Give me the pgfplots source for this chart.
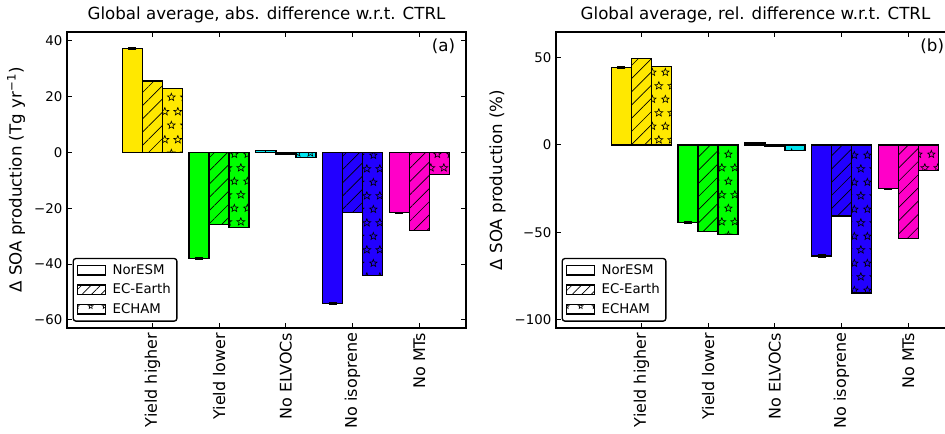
\documentclass[border=0pt]{standalone}
\usepackage{fontspec}
\setmainfont{DejaVu Sans}
\usepackage{pgfplots}
\pgfplotsset{compat=1.18}
\usetikzlibrary{patterns,patterns.meta}

\definecolor{cyellow}{HTML}{FFE800}
\definecolor{cgreen}{HTML}{00FF00}
\definecolor{ccyan}{HTML}{00E5F0}
\definecolor{cblue}{HTML}{2200FF}
\definecolor{cmag}{HTML}{FF00C8}

\newcommand{\starpath}[3]{\draw[line width=0.45pt, shift={(#1,#2)}] (90:#3) -- (126:0.42*#3) -- (162:#3) -- (198:0.42*#3) -- (234:#3) -- (270:0.42*#3) -- (306:#3) -- (342:0.42*#3) -- (18:#3) -- (54:0.42*#3) -- cycle;}

\tikzdeclarepattern{
  name=mystars,
  type=uncolored,
  bottom left={(0pt,0pt)},
  top right={(9.5pt,20.5pt)},
  tile size={(9.5pt,20.5pt)},
  code={
    \starpath{4.75pt}{5.125pt}{3pt}
    \starpath{0pt}{15.375pt}{3pt}
    \starpath{9.5pt}{15.375pt}{3pt}
  }
}
\tikzdeclarepattern{
  name=mystarsL,
  type=uncolored,
  bottom left={(0pt,0pt)},
  top right={(10.5pt,7pt)},
  tile size={(10.5pt,7pt)},
  code={
    \starpath{5.25pt}{5.2pt}{2pt}
  }
}

\pgfplotsset{
  myaxis/.style={
    scale only axis, width=299.25pt, height=222pt,
    xmin=-1.28, xmax=4.7,
    xtick={0,1,2,3,4},
    xticklabels={Yield higher, Yield lower, No ELVOCs, No isoprene, No MTs},
    xticklabel style={rotate=90, anchor=east, font=\fontsize{12}{14}\selectfont},
    yticklabel style={font=\fontsize{10}{12}\selectfont},
    tick align=inside, major tick length=4pt,
    tick style={black, line width=0.8pt},
    axis line style={line width=1.3pt},
    title style={font=\fontsize{12.5}{15}\selectfont, yshift=-3pt},
    ylabel style={font=\fontsize{12.5}{15}\selectfont},
    legend cell align=left,
    legend style={at={(0.014,0.021)}, anchor=south west, draw=black, line width=1pt,
      rounded corners=2pt, font=\fontsize{10}{12}\selectfont, row sep=1.5pt, column sep=3pt, inner sep=2.5pt},
    legend image code/.code={\draw[sharp corners, ##1] (0pt,-3.5pt) rectangle (21pt,3.5pt);},
  },
  noresm/.style={ybar, bar width=0.3, bar shift=0, draw=black, line width=1pt, forget plot,
    error bars/y dir=both, error bars/y explicit,
    error bars/error bar style={line width=0.8pt, black},
    error bars/error mark options={black, rotate=90, mark size=3pt, line width=0.8pt}},
  ecearth/.style={ybar, bar width=0.3, bar shift=0, draw=black, line width=1pt, forget plot,
    postaction={pattern={Lines[angle=45,distance=7pt,line width=0.5pt]}}},
  echam/.style={ybar, bar width=0.3, bar shift=0.3, draw=black, line width=1pt, forget plot,
    postaction={pattern=mystars}},
}

\begin{document}
\begin{tikzpicture}
\path[use as bounding box] (0,0) rectangle (708.75pt,324.75pt);

% ---------------- panel (a) ----------------
\begin{axis}[myaxis, at={(50.25pt,78.75pt)}, anchor=south west,
  ymin=-62.9, ymax=43.2,
  ytick={-60,-40,-20,0,20,40},
  yticklabels={−60,−40,−20,0,20,40},
  title={Global average, abs. difference w.r.t. CTRL},
  ylabel={Δ SOA production (Tg yr\textsuperscript{−1})}]
% NorESM (placed at category - 0.3)
\addplot[noresm, fill=cyellow] coordinates {(-0.3,37.4) +- (0,0.4)};
\addplot[noresm, fill=cgreen]  coordinates {(0.7,-38.1) +- (0,0.4)};
\addplot[noresm, fill=ccyan]   coordinates {(1.7,0.7) +- (0,0.1)};
\addplot[noresm, fill=cblue]   coordinates {(2.7,-54.2) +- (0,0.4)};
\addplot[noresm, fill=cmag]    coordinates {(3.7,-21.6) +- (0,0.2)};
% EC-Earth
\addplot[ecearth, fill=cyellow] coordinates {(0,25.6)};
\addplot[ecearth, fill=cgreen]  coordinates {(1,-25.7)};
\addplot[ecearth, fill=ccyan]   coordinates {(2,-0.5)};
\addplot[ecearth, fill=cblue]   coordinates {(3,-21.4)};
\addplot[ecearth, fill=cmag]    coordinates {(4,-28.0)};
% ECHAM
\addplot[echam, fill=cyellow] coordinates {(0,22.9)};
\addplot[echam, fill=cgreen]  coordinates {(1,-26.9)};
\addplot[echam, fill=ccyan]   coordinates {(2,-1.9)};
\addplot[echam, fill=cblue]   coordinates {(3,-44.1)};
\addplot[echam, fill=cmag]    coordinates {(4,-7.9)};
\addlegendimage{fill=white, draw=black, line width=1pt}
\addlegendentry{NorESM}
\addlegendimage{fill=white, draw=black, line width=1pt, postaction={pattern={Lines[angle=45,distance=5pt,line width=0.5pt]}}}
\addlegendentry{EC-Earth}
\addlegendimage{fill=white, draw=black, line width=1pt, postaction={pattern=mystarsL}}
\addlegendentry{ECHAM}
\node[anchor=north east, font=\fontsize{12.5}{15}\selectfont, inner sep=0pt, xshift=-8pt, yshift=-5pt] at (rel axis cs:1,1) {(a)};
\end{axis}

% ---------------- panel (b) ----------------
\begin{axis}[myaxis, at={(417pt,78.75pt)}, anchor=south west,
  ymin=-104.7, ymax=64.5,
  ytick={-100,-50,0,50},
  yticklabels={−100,−50,0,50},
  title={Global average, rel. difference w.r.t. CTRL},
  ylabel={Δ SOA production (\%)}]
% NorESM (placed at category - 0.3)
\addplot[noresm, fill=cyellow] coordinates {(-0.3,44.1) +- (0,0.5)};
\addplot[noresm, fill=cgreen]  coordinates {(0.7,-44.5) +- (0,0.5)};
\addplot[noresm, fill=ccyan]   coordinates {(1.7,1.0) +- (0,0.1)};
\addplot[noresm, fill=cblue]   coordinates {(2.7,-63.5) +- (0,0.8)};
\addplot[noresm, fill=cmag]    coordinates {(3.7,-25.1) +- (0,0.3)};
% EC-Earth
\addplot[ecearth, fill=cyellow] coordinates {(0,49.5)};
\addplot[ecearth, fill=cgreen]  coordinates {(1,-49.5)};
\addplot[ecearth, fill=ccyan]   coordinates {(2,-0.6)};
\addplot[ecearth, fill=cblue]   coordinates {(3,-40.7)};
\addplot[ecearth, fill=cmag]    coordinates {(4,-53.6)};
% ECHAM
\addplot[echam, fill=cyellow] coordinates {(0,44.7)};
\addplot[echam, fill=cgreen]  coordinates {(1,-51.3)};
\addplot[echam, fill=ccyan]   coordinates {(2,-3.2)};
\addplot[echam, fill=cblue]   coordinates {(3,-84.6)};
\addplot[echam, fill=cmag]    coordinates {(4,-14.8)};
\addlegendimage{fill=white, draw=black, line width=1pt}
\addlegendentry{NorESM}
\addlegendimage{fill=white, draw=black, line width=1pt, postaction={pattern={Lines[angle=45,distance=5pt,line width=0.5pt]}}}
\addlegendentry{EC-Earth}
\addlegendimage{fill=white, draw=black, line width=1pt, postaction={pattern=mystarsL}}
\addlegendentry{ECHAM}
\node[anchor=north east, font=\fontsize{12.5}{15}\selectfont, inner sep=0pt, xshift=-8pt, yshift=-5pt] at (rel axis cs:1,1) {(b)};
\end{axis}
\end{tikzpicture}
\end{document}
